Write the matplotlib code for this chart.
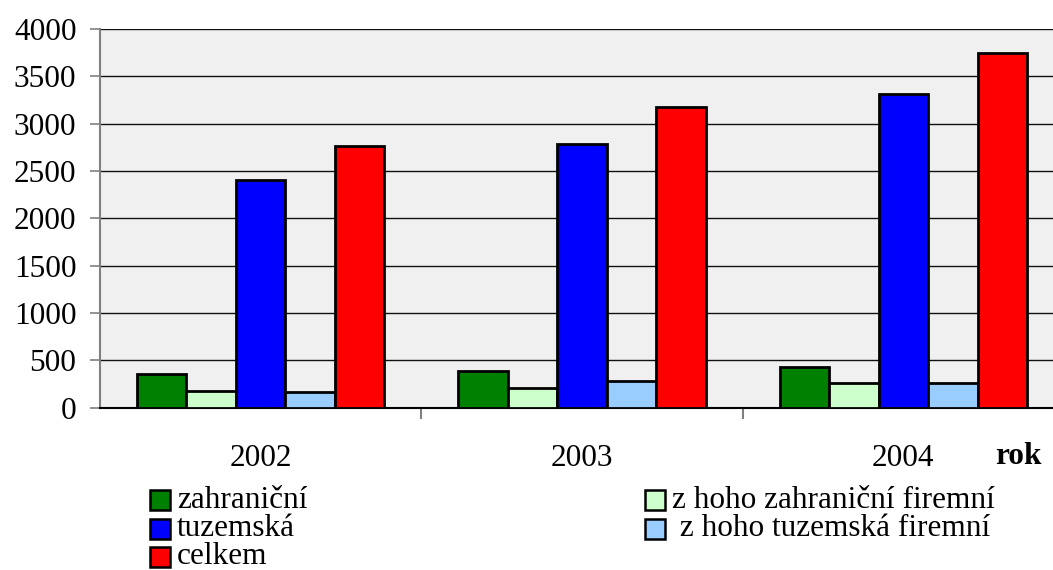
import matplotlib
matplotlib.use("Agg")
import matplotlib.pyplot as plt
from matplotlib.patches import Rectangle
import numpy as np

years = ["2002", "2003", "2004"]
series_names = ["zahraniční", "z hoho zahraniční firemní", "tuzemská",
                " z hoho tuzemská firemní", "celkem"]
zahranicni = [360, 385, 425]
zahranicni_firemni = [178, 205, 262]
tuzemska = [2400, 2790, 3315]
tuzemska_firemni = [168, 280, 264]
celkem = [2760, 3180, 3750]
colors = ["#008000", "#ccffcc", "#0000ff", "#99ccff", "#ff0000"]
yticks = [0, 500, 1000, 1500, 2000, 2500, 3000, 3500, 4000]

values = [zahranicni, zahranicni_firemni, tuzemska, tuzemska_firemni, celkem]

plt.rcParams['font.family'] = ['Liberation Serif', 'DejaVu Serif']

W, H = 1053, 570
fig = plt.figure(figsize=(W / 100, H / 100), dpi=100)
ax = fig.add_axes([100 / W, (H - 407.7) / H, 964 / W, 378.7 / H])
ax.set_facecolor("#f0f0f0")

x = np.arange(len(years))
bw = 0.154
for i, (vals, col) in enumerate(zip(values, colors)):
    ax.bar(x + (i - 2) * bw, vals, width=bw, color=col, edgecolor="black",
           linewidth=2.0, zorder=3)

ax.set_xlim(-0.5, 2.5)
ax.set_ylim(0, 4000)
ax.set_yticks(yticks)
ax.set_yticklabels([str(v) for v in yticks], fontsize=22.5)
ax.yaxis.grid(True, color="#111111", linewidth=1.0, zorder=1)
ax.set_axisbelow(True)

ax.set_xticks(x)
ax.set_xticklabels(years, fontsize=22.5)
ax.set_xticks([0.5, 1.5], minor=True)
ax.tick_params(axis="x", which="major", length=0, pad=26)
ax.tick_params(axis="x", which="minor", length=8, color="#808080", width=1.5)
ax.tick_params(axis="y", length=7, color="#808080", width=1.2, pad=10)

for s in ["top", "right"]:
    ax.spines[s].set_visible(False)
ax.spines["left"].set_color("#808080")
ax.spines["left"].set_linewidth(1.5)
ax.spines["bottom"].set_color("black")
ax.spines["bottom"].set_linewidth(1.5)

fig.text(1018 / W, 1 - 456 / H, "rok", fontsize=22.5, fontweight="bold",
         ha="center", va="center")

# legend (manual layout)
legend_pos = [(150, 500), (645, 500), (150, 529), (645, 529), (150, 557)]
for k in range(len(series_names)):
    px, py = legend_pos[k]
    sq = 20
    fig.patches.append(Rectangle((px / W, 1 - (py + sq / 2) / H), sq / W, sq / H,
                                 transform=fig.transFigure, facecolor=colors[k],
                                 edgecolor="black", linewidth=1.8))
    fig.text((px + 27) / W, 1 - py / H, series_names[k], fontsize=22.5,
             ha="left", va="center")

fig.savefig("out.png", dpi=100)
